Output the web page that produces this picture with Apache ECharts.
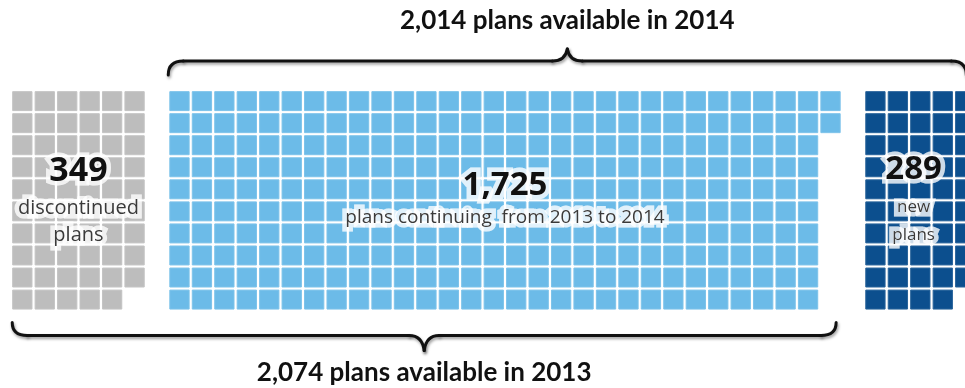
<!DOCTYPE html>
<html>
<head>
<meta charset="utf-8">
<script src="https://cdn.jsdelivr.net/npm/echarts@6/dist/echarts.min.js"></script>
<style>
  html, body { margin: 0; padding: 0; background: #ffffff; }
  #chart { width: 965px; height: 388px; }
</style>
</head>
<body>
<div id="chart"></div>
<script>
// Plan counts per group
const groupNames = ['discontinued', 'continuing', 'new'];
const planCounts = [349, 1725, 289];

// Waffle cells per row (top row first) for each group
const discontinuedRowLengths = [6, 6, 6, 6, 6, 6, 6, 6, 6, 5];
const continuingRowLengths = [30, 30, 29, 29, 29, 29, 29, 29, 29, 29];
const newRowLengths = [5, 5, 5, 5, 5, 5, 5, 5, 5, 4];

// Text drawn on each block
const groupCaptions = [['discontinued', 'plans'], ['plans continuing  from 2013 to 2014'], ['new', 'plans']];

// Layout: first grid column of each block, and the colours
const blockStartColumn = [0, 7, 38];
const blockColors = ['#bdbdbd', '#6cbbe8', '#0c4f8e'];

const rowLengthsByGroup = [discontinuedRowLengths, continuingRowLengths, newRowLengths];
const cells = [];
rowLengthsByGroup.forEach(function (rows, g) {
  rows.forEach(function (len, r) {
    for (let c = 0; c < len; c++) {
      cells.push([blockStartColumn[g] + c, r, g]);
    }
  });
});

const fmt = function (n) { return n.toLocaleString('en-US'); };

const chart = echarts.init(document.getElementById('chart'), null, { renderer: 'canvas' });

// The last column of the right block runs past the right edge of the canvas
chart.setOption({
  animation: false,
  backgroundColor: '#ffffff',
  grid: { left: 11.1, top: 90.1, right: 0, height: 220.5 },
  xAxis: { type: 'value', min: -0.5, max: 41.99, show: false },
  yAxis: { type: 'value', min: -0.5, max: 9.5, inverse: true, show: false },
  series: [{
    type: 'custom',
    z: 2,
    clip: false,
    data: cells,
    renderItem: function (params, api) {
      const p = api.coord([api.value(0), api.value(1)]);
      const s = api.size([1, 1]);
      const w = s[0] * 0.86;
      const h = s[1] * 0.86;
      const color = blockColors[api.value(2)];
      return {
        type: 'rect',
        shape: { x: p[0] - w / 2, y: p[1] - h / 2, width: w, height: h },
        style: { fill: color, stroke: echarts.color.lift(color, 0.12), lineWidth: 1 }
      };
    }
  }]
});

// Brace and label overlay, positioned from the axes
function px(col, row) { return chart.convertToPixel({ gridIndex: 0 }, [col, row]); }

const braceStyle = {
  fill: null, stroke: '#111111', lineWidth: 3, lineCap: 'round',
  shadowColor: 'rgba(0,0,0,0.4)', shadowBlur: 3, shadowOffsetX: 1, shadowOffsetY: 2
};

// A curly brace built from curves and straight runs
function brace(x0, x1, xc, yEnd, yLine, yTip) {
  const r = 15;
  const curve = function (ax, ay, cx, cy, bx, by) {
    return { type: 'bezierCurve', shape: { x1: ax, y1: ay, cpx1: cx, cpy1: cy, x2: bx, y2: by }, style: braceStyle };
  };
  const run = function (ax, bx) {
    return { type: 'line', shape: { x1: ax, y1: yLine, x2: bx, y2: yLine }, style: braceStyle };
  };
  return [
    curve(x0, yEnd, x0, yLine, x0 + r, yLine),
    run(x0 + r, xc - r),
    curve(xc - r, yLine, xc - 2, yLine, xc, yTip),
    curve(xc, yTip, xc + 2, yLine, xc + r, yLine),
    run(xc + r, x1 - r),
    curve(x1 - r, yLine, x1, yLine, x1, yEnd)
  ];
}

const gridTop = px(0, -0.5)[1];
const gridBottom = px(0, 9.5)[1];

const topX0 = px(6.5, 0)[0];
const topX1 = px(42.05, 0)[0];
const topXc = (topX0 + topX1) / 2;
const botX0 = px(-0.45, 0)[0];
const botX1 = px(36.25, 0)[0];
const botXc = (botX0 + botX1) / 2;

// Soft white halo behind a label, then the label itself
function label(text, pos, size, weight, color, family) {
  const font = weight + ' ' + size + 'px ' + family;
  const base = { text: text, font: font, align: 'center', verticalAlign: 'middle' };
  const halo = { fill: '#ffffff', stroke: 'rgba(255,255,255,0.55)', lineWidth: 9, shadowColor: '#ffffff', shadowBlur: 16 };
  return [
    { type: 'text', x: pos[0], y: pos[1], silent: true, style: Object.assign({}, halo, base) },
    { type: 'text', x: pos[0], y: pos[1], silent: true, style: Object.assign({}, halo, base) },
    { type: 'text', x: pos[0], y: pos[1], style: Object.assign({ fill: color }, base) }
  ];
}

const numberFont = '"Open Sans", sans-serif';
const captionFont = '"Open Sans", sans-serif';
const headFont = 'Lato, sans-serif';

const elements = []
  .concat(brace(topX0, topX1, topXc, gridTop - 15, gridTop - 29, gridTop - 41))
  .concat(brace(botX0, botX1, botXc, gridBottom + 12, gridBottom + 25, gridBottom + 40))
  .concat([
    {
      type: 'text', x: topXc, y: gridTop - 69,
      style: { text: fmt(planCounts[1] + planCounts[2]) + ' plans available in 2014', fill: '#111111', font: 'bold 26px ' + headFont, align: 'center', verticalAlign: 'middle' }
    },
    {
      type: 'text', x: botXc, y: gridBottom + 62,
      style: { text: fmt(planCounts[0] + planCounts[1]) + ' plans available in 2013', fill: '#111111', font: 'bold 26px ' + headFont, align: 'center', verticalAlign: 'middle' }
    }
  ])
  // discontinued block
  .concat(label(fmt(planCounts[0]), px(2.5, 3.2), 34, 'bold', '#111111', numberFont))
  .concat(label(groupCaptions[0][0], px(2.5, 4.85), 20, 'normal', '#3a3a3a', captionFont))
  .concat(label(groupCaptions[0][1], px(2.5, 6.1), 20, 'normal', '#3a3a3a', captionFont))
  // continuing block
  .concat(label(fmt(planCounts[1]), px(21.5, 3.85), 33, 'bold', '#111111', numberFont))
  .concat(label(groupCaptions[1][0], px(21.5, 5.3), 19, 'normal', '#3a3a3a', captionFont))
  // new block
  .concat(label(fmt(planCounts[2]), px(39.7, 3.1), 33, 'bold', '#111111', numberFont))
  .concat(label(groupCaptions[2][0], px(39.7, 4.8), 17, 'normal', '#3a3a3a', captionFont))
  .concat(label(groupCaptions[2][1], px(39.7, 6.1), 17, 'normal', '#3a3a3a', captionFont));

// Overlay sits above the waffle cells
elements.forEach(function (el) { el.z = 10; });

chart.setOption({ graphic: { elements: elements } });
</script>
</body>
</html>
